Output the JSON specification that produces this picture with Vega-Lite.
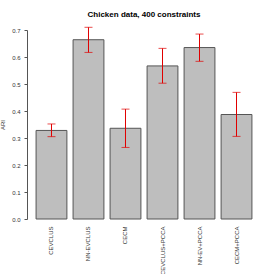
{
  "$schema": "https://vega.github.io/schema/vega-lite/v6.json",
  "width": 234,
  "height": 189,
  "autosize": "none",
  "padding": {"left": 27, "top": 30, "right": 13, "bottom": 55},
  "background": "white",
  "title": {"text": "Chicken data, 400 constraints", "font": "Liberation Sans", "fontSize": 8, "fontWeight": "bold", "color": "#000", "offset": 8},
  "data": {"values": [
    {"method": "CEVCLUS", "ari": 0.328, "lo": 0.305, "hi": 0.352},
    {"method": "NN-EVCLUS", "ari": 0.664, "lo": 0.617, "hi": 0.710},
    {"method": "CECM", "ari": 0.336, "lo": 0.265, "hi": 0.407},
    {"method": "CEVCLUS+PCCA", "ari": 0.567, "lo": 0.503, "hi": 0.632},
    {"method": "NN-EV+PCCA", "ari": 0.635, "lo": 0.584, "hi": 0.685},
    {"method": "CECM+PCCA", "ari": 0.387, "lo": 0.306, "hi": 0.469}
  ]},
  "encoding": {
    "x": {"field": "method", "type": "nominal", "sort": null,
      "scale": {"paddingInner": 0.1667, "paddingOuter": 0.245},
      "axis": {"title": null, "labelAngle": 270, "labelAlign": "right", "labelBaseline": "middle", "labelPadding": 7, "ticks": false, "domain": false, "labelFont": "Liberation Sans", "labelFontSize": 6, "labelColor": "#333", "labelOverlap": false}}
  },
  "layer": [
    {"mark": {"type": "bar", "fill": "#bebebe", "stroke": "#555", "strokeWidth": 1},
     "encoding": {"y": {"field": "ari", "type": "quantitative",
       "scale": {"domain": [0, 0.7], "nice": false, "zero": true},
       "axis": {"title": "ARI", "values": [0, 0.1, 0.2, 0.3, 0.4, 0.5, 0.6, 0.7], "format": ".1f", "grid": false, "labelOverlap": false, "labelFlush": false, "tickSize": 3, "tickColor": "#555", "domainColor": "#555", "labelFont": "Liberation Sans", "labelFontSize": 6, "labelColor": "#333", "labelPadding": 4, "titleFont": "Liberation Sans", "titleFontSize": 6, "titleFontWeight": "normal", "titleColor": "#333", "titlePadding": 6}}}},
    {"mark": {"type": "rule", "color": "#e00000", "strokeWidth": 1, "clip": false},
     "encoding": {"y": {"field": "lo", "type": "quantitative", "axis": {"title": "ARI", "values": [0, 0.1, 0.2, 0.3, 0.4, 0.5, 0.6, 0.7], "format": ".1f", "grid": false, "labelOverlap": false, "labelFlush": false, "tickSize": 3, "tickColor": "#555", "domainColor": "#555", "labelFont": "Liberation Sans", "labelFontSize": 6, "labelColor": "#333", "labelPadding": 4, "titleFont": "Liberation Sans", "titleFontSize": 6, "titleFontWeight": "normal", "titleColor": "#333", "titlePadding": 6}}, "y2": {"field": "hi"}}},
    {"mark": {"type": "tick", "color": "#e00000", "thickness": 1, "size": 8, "clip": false},
     "encoding": {"y": {"field": "lo", "type": "quantitative", "axis": {"title": "ARI", "values": [0, 0.1, 0.2, 0.3, 0.4, 0.5, 0.6, 0.7], "format": ".1f", "grid": false, "labelOverlap": false, "labelFlush": false, "tickSize": 3, "tickColor": "#555", "domainColor": "#555", "labelFont": "Liberation Sans", "labelFontSize": 6, "labelColor": "#333", "labelPadding": 4, "titleFont": "Liberation Sans", "titleFontSize": 6, "titleFontWeight": "normal", "titleColor": "#333", "titlePadding": 6}}}},
    {"mark": {"type": "tick", "color": "#e00000", "thickness": 1, "size": 8, "clip": false},
     "encoding": {"y": {"field": "hi", "type": "quantitative", "axis": {"title": "ARI", "values": [0, 0.1, 0.2, 0.3, 0.4, 0.5, 0.6, 0.7], "format": ".1f", "grid": false, "labelOverlap": false, "labelFlush": false, "tickSize": 3, "tickColor": "#555", "domainColor": "#555", "labelFont": "Liberation Sans", "labelFontSize": 6, "labelColor": "#333", "labelPadding": 4, "titleFont": "Liberation Sans", "titleFontSize": 6, "titleFontWeight": "normal", "titleColor": "#333", "titlePadding": 6}}}}
  ],
  "config": {"view": {"stroke": null}}
}
